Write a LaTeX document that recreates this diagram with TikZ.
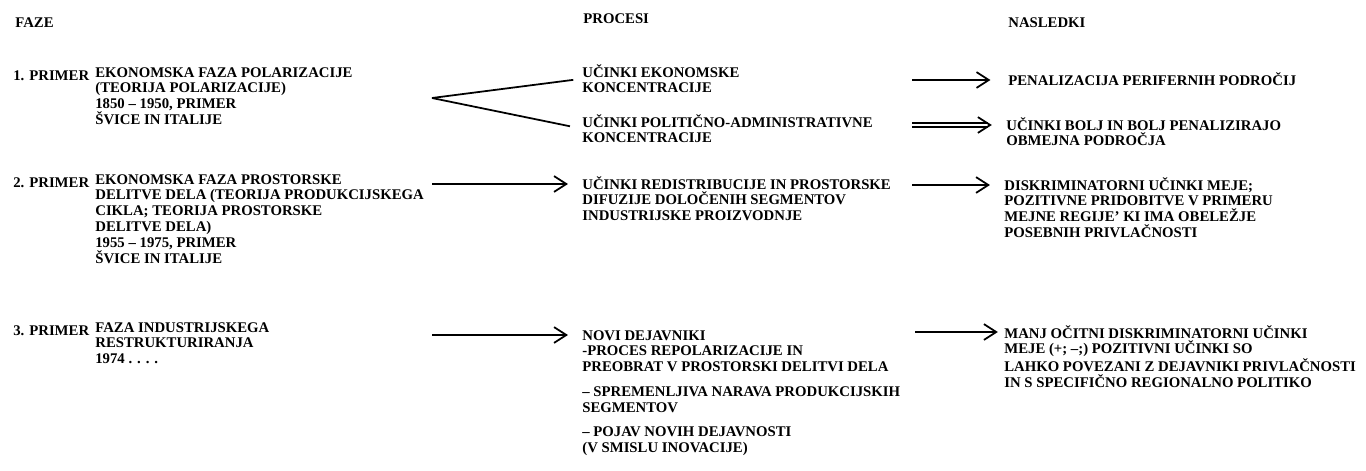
\documentclass[tikz,border=0pt]{standalone}
\usepackage{fontspec}
\setmainfont{Liberation Serif}
\usetikzlibrary{arrows.meta}
\tikzset{>={Straight Barb[length=7pt,width=9pt]}}
\newcommand{\txtfont}{\fontsize{8.4}{9}\selectfont\bfseries}

\begin{document}
\begin{tikzpicture}[x=0.02cm, y=-0.02cm, font=\txtfont]

  \tikzset{txt/.style={anchor=north west, inner sep=0pt, align=left,
                       execute at begin node={\vphantom{Č}}},
           arr/.style={->, line width=1pt},
           dline/.style={double, double distance=1.6pt, line width=1pt}}

  \useasboundingbox (0,0) rectangle (1366,470);

  % column heads
  \node[txt] (faze) at (15,14) {FAZE};
  \node[txt] (procesi) at (583,10) {PROCESI};
  \node[txt] (nasledki) at (1008,14) {NASLEDKI};

  % phases
  \foreach \n/\y in {1/67, 2/174, 3/322}
    \node[txt] (l\n) at (13,\y) {\n. PRIMER};
  \node[txt] (f1) at (95,67) {EKONOMSKA FAZA POLARIZACIJE\\(TEORIJA POLARIZACIJE)\\1850 – 1950, PRIMER\\ŠVICE IN ITALIJE};
  \node[txt] (f2) at (95,174) {EKONOMSKA FAZA PROSTORSKE\\DELITVE DELA (TEORIJA PRODUKCIJSKEGA\\CIKLA; TEORIJA PROSTORSKE\\DELITVE DELA)\\1955 – 1975, PRIMER\\ŠVICE IN ITALIJE};
  \node[txt] (f3) at (95,322) {FAZA INDUSTRIJSKEGA\\RESTRUKTURIRANJA\\1974 . . . .};

  % processes
  \node[txt] (p1a) at (582,64) {UČINKI EKONOMSKE\\KONCENTRACIJE};
  \node[txt] (p1b) at (582,114) {UČINKI POLITIČNO-ADMINISTRATIVNE\\KONCENTRACIJE};
  \node[txt] (p2) at (582,176) {UČINKI REDISTRIBUCIJE IN PROSTORSKE\\DIFUZIJE DOLOČENIH SEGMENTOV\\INDUSTRIJSKE PROIZVODNJE};
  \node[txt] (p3) at (582,330) {NOVI DEJAVNIKI\\-PROCES REPOLARIZACIJE IN\\PREOBRAT V PROSTORSKI DELITVI DELA\\[5pt]– SPREMENLJIVA NARAVA PRODUKCIJSKIH\\SEGMENTOV\\[5pt]– POJAV NOVIH DEJAVNOSTI\\(V SMISLU INOVACIJE)};

  % consequences
  \node[txt] (n1a) at (1008,72) {PENALIZACIJA PERIFERNIH PODROČIJ};
  \node[txt] (n1b) at (1006,117) {UČINKI BOLJ IN BOLJ PENALIZIRAJO\\OBMEJNA PODROČJA};
  \node[txt] (n2) at (1004,177) {DISKRIMINATORNI UČINKI MEJE;\\POZITIVNE PRIDOBITVE V PRIMERU\\MEJNE REGIJE' KI IMA OBELEŽJE\\POSEBNIH PRIVLAČNOSTI};
  \node[txt] (n3) at (1004,325) {MANJ OČITNI DISKRIMINATORNI UČINKI\\MEJE (+; –;) POZITIVNI UČINKI SO\\LAHKO POVEZANI Z DEJAVNIKI PRIVLAČNOSTI\\IN S SPECIFIČNO REGIONALNO POLITIKO};

  % arrow starts
  \coordinate (v1) at (432,98);
  \coordinate (a2) at (432,184);
  \coordinate (a3) at (432,335);
  \coordinate (b1) at (912,80);
  \coordinate (b1d) at (912,125);
  \coordinate (b2) at (912,185);
  \coordinate (b3) at (915,332);

  % the fork of phase 1
  \draw[line width=1pt, shorten >=5pt] (v1) -- (p1a.west);
  \draw[line width=1pt, shorten >=7pt] (v1) -- (p1b.west);

  \draw[arr, shorten >=8pt] (a2) -- (a2 -| p2.west);
  \draw[arr, shorten >=8pt] (a3) -- (a3 -| p3.west);
  \draw[arr, shorten >=10pt] (b1) -- (b1 -| n1a.west);
  \draw[arr, shorten >=8pt] (b2) -- (b2 -| n2.west);
  \draw[arr, shorten >=3.5pt] (b3) -- (b3 -| n3.west);

  % double arrow
  \path (b1d -| n1b.west) ++(-9pt,0) coordinate (t1);
  \draw[dline] (b1d) -- ([xshift=-1.5pt]t1);
  \draw[line width=1pt] ([shift={(-7pt,4.5pt)}]t1) -- (t1) -- ([shift={(-7pt,-4.5pt)}]t1);

\end{tikzpicture}
\end{document}
